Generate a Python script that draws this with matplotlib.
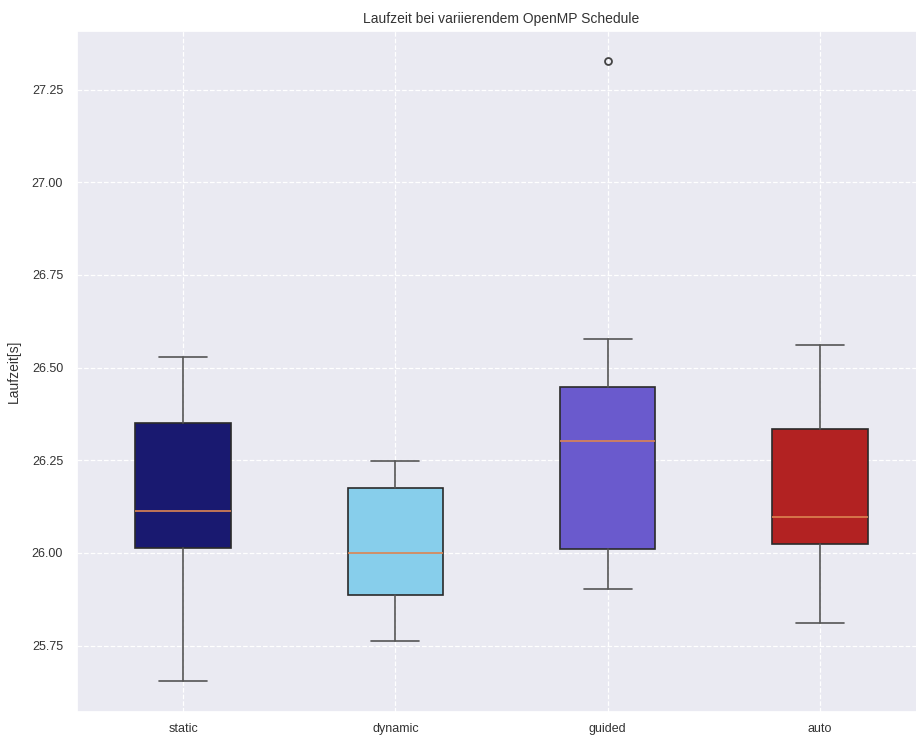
import matplotlib
matplotlib.use("Agg")
import matplotlib.pyplot as plt
import seaborn as sns

schedules = ["static", "dynamic", "guided", "auto"]
box_colors = ["midnightblue", "skyblue", "slateblue", "firebrick"]

whisker_low = [25.655, 25.763, 25.903, 25.810]
q1 = [26.013, 25.887, 26.010, 26.024]
median = [26.114, 25.999, 26.302, 26.097]
q3 = [26.350, 26.174, 26.448, 26.334]
whisker_high = [26.529, 26.248, 26.576, 26.562]
outliers = [[], [], [27.327], []]

sns.set_theme(style="darkgrid")
plt.rcParams["font.family"] = ["Liberation Sans", "DejaVu Sans"]

fig = plt.figure(figsize=(9.16, 7.38), dpi=100)
ax = fig.add_axes([77 / 916, 26 / 738, 849 / 916, 681 / 738])

stats = []
for i, name in enumerate(schedules):
    stats.append(dict(label=name, whislo=whisker_low[i], q1=q1[i], med=median[i],
                      q3=q3[i], whishi=whisker_high[i], fliers=outliers[i]))

bp = ax.bxp(stats, widths=0.45, patch_artist=True,
            boxprops=dict(edgecolor="#2a2a2a", linewidth=1.2),
            whiskerprops=dict(color="#555555", linewidth=1.2),
            capprops=dict(color="#555555", linewidth=1.2),
            medianprops=dict(color="#DD8452", linewidth=1.2),
            flierprops=dict(marker="o", markerfacecolor="none",
                            markeredgecolor="#444444", markersize=5, markeredgewidth=1.3))
for patch, c in zip(bp["boxes"], box_colors):
    patch.set_facecolor(c)

ax.set_xlim(0.5, 4.5)
ax.set_ylim(25.571, 27.408)
ax.set_yticks([25.75, 26.00, 26.25, 26.50, 26.75, 27.00, 27.25])
ax.grid(True, linestyle="--", color="white", linewidth=0.9)
ax.tick_params(axis="both", length=0, labelsize=9, colors="#333333")
ax.tick_params(axis="x", pad=8)
ax.tick_params(axis="y", pad=10)
ax.set_ylabel("Laufzeit[s]", fontsize=10, color="#333333", labelpad=8)
ax.set_title("Laufzeit bei variierendem OpenMP Schedule", fontsize=10, color="#333333", pad=6)

fig.savefig("out.png", dpi=100)
